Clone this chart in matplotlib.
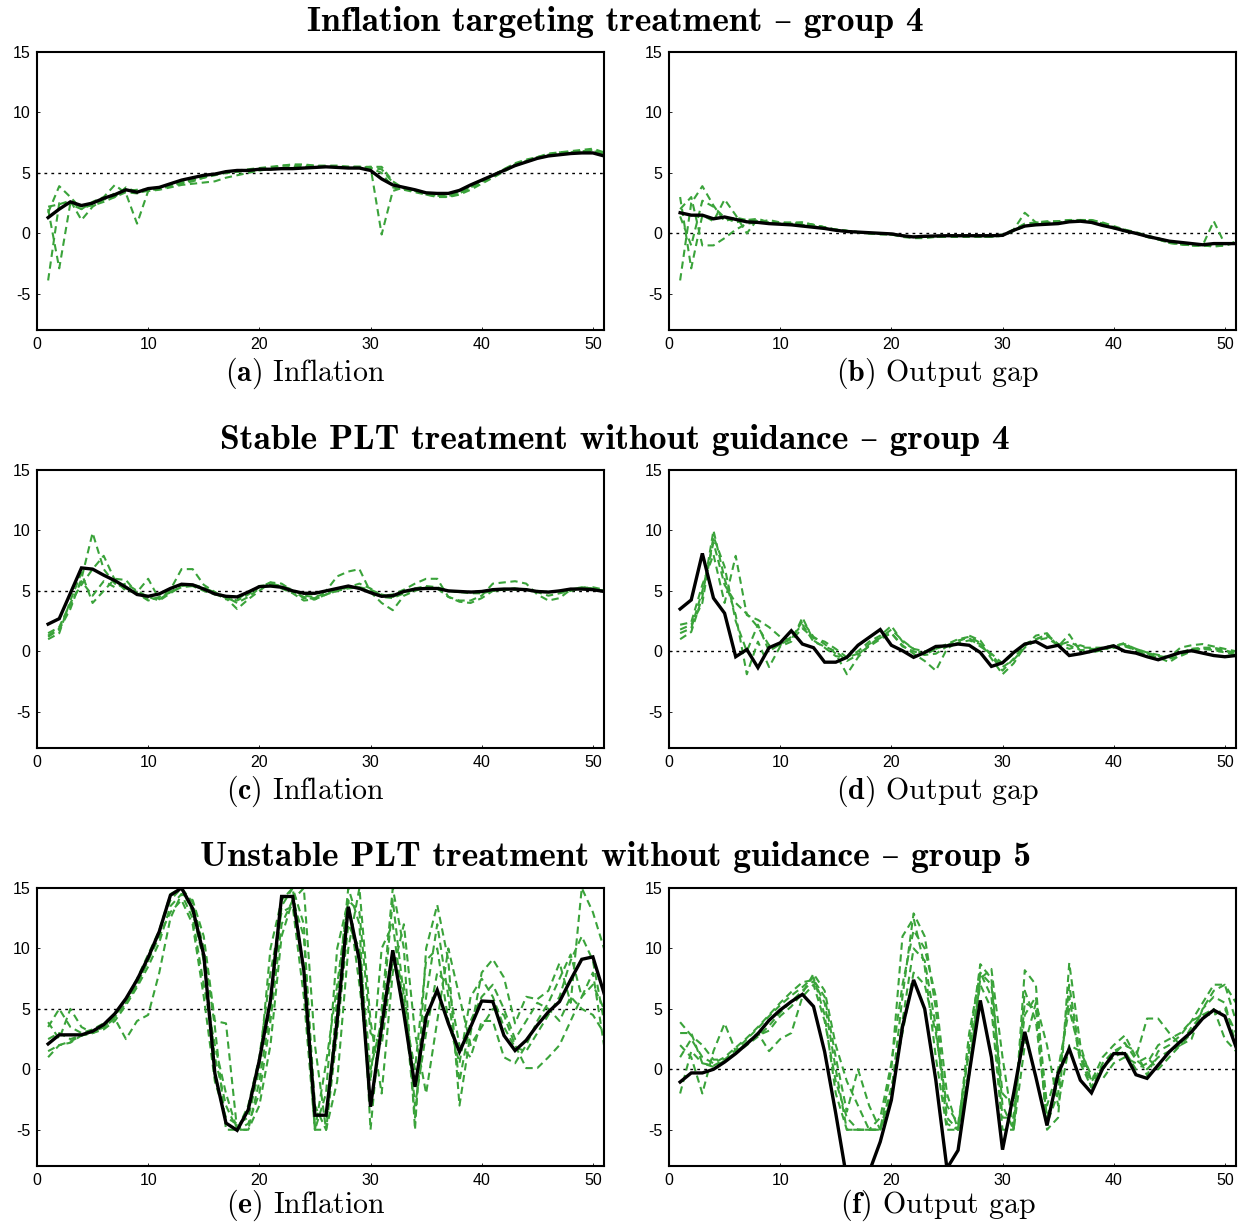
import matplotlib
matplotlib.use('Agg')
import matplotlib.pyplot as plt
import numpy as np

plt.rcParams['mathtext.fontset'] = 'cm'
plt.rcParams['axes.unicode_minus'] = False

periods = np.arange(1, 52)

# ---- Inflation targeting treatment - group 4 ----
it_infl_real = [1.3, 2.0, 2.6, 2.3, 2.5, 2.9, 3.2, 3.6, 3.4, 3.7, 3.8, 4.1, 4.4, 4.6, 4.8, 4.9, 5.1, 5.2, 5.2, 5.3,
                5.3, 5.35, 5.35, 5.4, 5.45, 5.5, 5.45, 5.4, 5.4, 5.2, 4.5, 4.0, 3.8, 3.6, 3.35, 3.3, 3.3, 3.55, 4.0, 4.4,
                4.8, 5.2, 5.6, 5.9, 6.2, 6.4, 6.5, 6.6, 6.65, 6.65, 6.4]
it_infl_fc = [
    [-3.9, 2.5, 2.4, 2.0, 2.4, 2.8, 3.3, 3.5, 3.6, 3.6, 3.8, 4.0, 4.2, 4.4, 4.7, 4.9, 5.1, 5.2, 5.3, 5.4,
     5.5, 5.6, 5.6, 5.6, 5.6, 5.5, 5.5, 5.5, 5.5, 5.4, 5.3, 4.2, 3.7, 3.5, 3.3, 3.1, 3.0, 3.2, 3.6, 4.1,
     4.6, 5.1, 5.6, 5.9, 6.2, 6.4, 6.6, 6.7, 6.8, 6.9, 6.6],
    [2.0, -2.9, 2.5, 2.2, 2.3, 2.6, 3.0, 3.4, 3.3, 3.6, 3.7, 3.9, 4.1, 4.3, 4.6, 4.9, 5.0, 5.1, 5.2, 5.2,
     5.3, 5.4, 5.5, 5.5, 5.5, 5.5, 5.5, 5.5, 5.5, 5.4, 5.0, 3.8, 3.6, 3.4, 3.2, 3.0, 3.0, 3.3, 3.8, 4.2,
     4.7, 5.2, 5.7, 6.0, 6.3, 6.5, 6.6, 6.7, 6.8, 6.8, 6.5],
    [1.7, 3.9, 3.0, 2.0, 2.6, 3.0, 4.0, 3.3, 0.8, 3.5, 3.6, 3.8, 4.0, 4.1, 4.2, 4.3, 4.6, 4.8, 5.0, 5.2,
     5.4, 5.6, 5.7, 5.7, 5.6, 5.6, 5.6, 5.5, 5.5, 5.5, -0.1, 3.5, 3.8, 3.6, 3.3, 3.2, 3.2, 3.4, 3.9, 4.4,
     4.8, 5.3, 5.8, 6.1, 6.3, 6.6, 6.7, 6.8, 6.9, 7.0, 6.7],
    [2.2, 2.4, 2.7, 1.1, 2.2, 2.8, 3.0, 3.8, 3.4, 3.5, 3.7, 3.9, 4.2, 4.4, 4.6, 4.8, 5.0, 5.1, 5.2, 5.3,
     5.3, 5.4, 5.4, 5.5, 5.5, 5.5, 5.5, 5.4, 5.4, 5.5, 5.5, 4.3, 3.7, 3.5, 3.2, 3.1, 3.1, 3.3, 3.8, 4.3,
     4.8, 5.3, 5.7, 6.0, 6.3, 6.5, 6.7, 6.7, 6.8, 6.8, 6.6],
]
it_gap_real = [1.7, 1.5, 1.5, 1.2, 1.35, 1.15, 0.95, 0.9, 0.8, 0.75, 0.7, 0.6, 0.5, 0.4, 0.25, 0.15, 0.1, 0.05, 0.0, -0.05,
               -0.2, -0.3, -0.25, -0.22, -0.2, -0.2, -0.2, -0.2, -0.2, -0.17, 0.25, 0.6, 0.7, 0.75, 0.8, 0.95, 1.0, 0.9, 0.65, 0.45,
               0.2, 0.0, -0.25, -0.45, -0.65, -0.75, -0.85, -0.95, -0.85, -0.85, -0.85]
it_gap_fc = [
    [-3.9, 2.5, 3.9, 2.3, 1.0, 1.3, 1.1, 1.0, 0.9, 0.8, 0.8, 0.7, 0.6, 0.4, 0.3, 0.2, 0.1, 0.0, -0.1, -0.1,
     -0.3, -0.4, -0.4, -0.3, -0.3, -0.3, -0.3, -0.3, -0.3, -0.2, 0.3, 1.7, 0.9, 0.9, 0.9, 1.0, 1.1, 1.1, 0.9, 0.6,
     0.3, 0.1, -0.2, -0.5, -0.8, -0.9, -1.0, -1.0, 1.0, -0.9, -0.8],
    [3.0, -2.9, 1.5, 1.0, 2.8, 1.5, 0.0, 1.2, 0.8, 0.9, 0.9, 0.9, 0.7, 0.5, 0.3, 0.2, 0.1, 0.0, 0.0, -0.1,
     -0.2, -0.3, -0.3, -0.2, -0.2, -0.2, -0.2, -0.2, -0.2, -0.1, 0.3, 0.8, 0.9, 1.0, 1.0, 1.1, 1.1, 1.0, 0.8, 0.5,
     0.2, 0.0, -0.3, -0.5, -0.7, -0.9, -1.0, -1.0, -1.0, -1.0, -0.8],
    [2.0, 3.0, -1.0, -1.0, -0.4, 0.3, 0.8, 0.9, 1.1, 0.9, 0.8, 0.9, 0.7, 0.5, 0.3, 0.2, 0.1, 0.0, 0.0, -0.1,
     -0.2, -0.3, -0.3, -0.3, -0.2, -0.2, -0.2, -0.2, -0.2, -0.2, 0.2, 0.6, 0.8, 0.9, 0.9, 1.0, 1.1, 1.0, 0.8, 0.4,
     0.3, 0.0, -0.2, -0.4, -0.7, -0.9, -1.0, -1.0, -1.1, -1.0, -0.7],
    [1.4, -1.0, 2.7, 2.2, 1.3, 0.9, 1.1, 1.2, 0.9, 0.8, 0.8, 0.8, 0.7, 0.5, 0.3, 0.2, 0.1, 0.0, 0.0, -0.1,
     -0.2, -0.3, -0.3, -0.3, -0.2, -0.2, -0.2, -0.3, -0.3, -0.2, 0.2, 0.6, 0.8, 0.9, 1.0, 1.1, 1.1, 1.1, 0.8, 0.5,
     0.2, 0.0, -0.3, -0.5, -0.8, -0.9, -1.0, -1.0, -1.0, -1.0, -0.7],
]

# ---- Stable PLT treatment without guidance - group 4 ----
splt_infl_real = [2.25, 2.7, 4.8, 6.9, 6.8, 6.3, 5.85, 5.3, 4.7, 4.55, 4.75, 5.2, 5.55, 5.5, 5.15, 4.75, 4.55, 4.5, 4.9, 5.35,
                  5.4, 5.3, 5.0, 4.8, 4.8, 5.0, 5.2, 5.4, 5.2, 4.85, 4.55, 4.6, 4.95, 5.15, 5.2, 5.2, 5.0, 4.95, 4.9, 4.95,
                  5.1, 5.15, 5.15, 5.1, 4.95, 4.9, 5.0, 5.15, 5.15, 5.1, 4.95]
splt_infl_fc = [
    [1.2, 1.8, 3.5, 6.0, 9.8, 6.8, 5.6, 5.2, 4.8, 4.3, 4.4, 4.9, 5.3, 5.4, 5.2, 4.9, 4.5, 4.0, 4.5, 5.2,
     5.6, 5.4, 5.1, 4.6, 4.5, 4.8, 5.1, 5.3, 5.3, 4.9, 4.5, 4.4, 4.8, 5.1, 5.2, 5.2, 5.0, 4.9, 4.9, 4.9,
     5.0, 5.1, 5.1, 5.1, 5.0, 4.9, 4.9, 5.1, 5.2, 5.2, 5.0],
    [1.0, 1.5, 4.2, 6.5, 4.0, 5.0, 6.0, 5.9, 4.8, 4.2, 4.5, 5.1, 6.8, 6.8, 5.5, 4.9, 4.4, 3.5, 4.3, 5.0,
     5.7, 5.6, 5.0, 4.4, 4.4, 5.0, 6.2, 6.6, 6.8, 4.9, 4.0, 3.4, 4.6, 5.0, 5.3, 5.2, 4.5, 4.2, 4.2, 4.6,
     5.6, 5.7, 5.8, 5.6, 4.7, 4.2, 4.4, 5.1, 5.3, 5.2, 5.0],
    [1.5, 2.0, 4.0, 5.5, 6.8, 7.9, 5.9, 5.0, 4.9, 6.0, 4.3, 4.9, 5.5, 5.4, 5.0, 4.7, 4.5, 4.2, 4.7, 5.3,
     5.7, 5.3, 4.9, 4.5, 4.3, 4.7, 5.0, 5.3, 5.6, 5.2, 4.6, 4.7, 5.1, 5.6, 6.0, 6.0, 4.5, 4.1, 4.0, 4.4,
     5.0, 5.1, 5.2, 5.1, 4.9, 4.6, 4.8, 5.0, 5.2, 5.3, 5.1],
    [1.3, 1.9, 3.8, 5.8, 4.6, 5.8, 5.3, 5.6, 5.0, 4.5, 4.2, 4.8, 5.4, 5.5, 5.3, 4.8, 4.3, 4.3, 4.9, 5.4,
     5.5, 5.2, 4.8, 4.2, 4.3, 4.7, 5.0, 5.2, 5.3, 5.1, 4.7, 4.5, 4.9, 5.2, 5.4, 5.3, 5.0, 4.9, 4.8, 4.8,
     5.0, 5.1, 5.2, 5.1, 4.9, 4.9, 5.0, 5.1, 5.3, 5.2, 5.0],
]
splt_gap_real = [3.5, 4.25, 8.1, 4.4, 3.15, -0.45, 0.15, -1.35, 0.3, 0.7, 1.7, 0.6, 0.3, -0.9, -0.9, -0.5, 0.5, 1.15, 1.8, 0.5,
                 0.05, -0.5, -0.1, 0.4, 0.45, 0.6, 0.5, -0.1, -1.25, -0.95, -0.1, 0.6, 0.8, 0.3, 0.5, -0.35, -0.2, 0.0, 0.25, 0.45,
                 0.0, -0.15, -0.45, -0.7, -0.4, -0.1, 0.05, -0.15, -0.35, -0.45, -0.35]
splt_gap_fc = [
    [1.0, 1.6, 4.5, 10.0, 6.0, 3.0, -1.9, 0.8, -1.3, 0.4, 0.8, 2.8, 0.9, 0.3, -0.4, -0.5, 0.0, 0.8, 1.3, 2.1,
     0.8, 0.2, -0.3, 0.2, 0.6, 1.0, 1.2, 0.7, -0.6, -1.9, -1.0, 0.4, 1.3, 1.5, 0.4, 1.4, 0.0, -0.1, 0.1, 0.4,
     0.7, 0.0, -0.3, -0.5, -0.9, -0.3, 0.2, 0.3, 0.3, 0.1, -0.2],
    [1.8, 2.2, 4.0, 9.5, 7.0, 2.5, 0.0, 2.2, 0.0, 0.6, 1.0, 2.5, 1.2, 0.6, -0.2, -1.9, -0.5, 0.5, 1.2, 1.5,
     0.5, -0.2, -0.8, -1.6, 0.2, 0.8, 1.3, 0.9, -0.4, -1.6, -0.6, 0.5, 1.0, 1.3, 0.6, 0.2, 0.5, 0.2, 0.2, 0.3,
     0.5, 0.2, -0.1, -0.4, -0.6, -0.4, 0.0, 0.2, 0.2, 0.0, -0.1],
    [2.2, 2.4, 5.5, 8.0, 4.0, 7.9, 3.0, 2.6, 2.0, 1.2, 0.9, 1.9, 1.1, 0.8, 0.2, -0.5, -0.2, 0.4, 1.0, 1.5,
     0.4, 0.0, -0.3, -0.2, 0.4, 0.7, 0.9, 0.6, -0.3, -1.3, -0.7, 0.3, 0.9, 1.1, 0.5, 0.8, 0.3, 0.3, 0.3, 0.5,
     0.6, 0.2, -0.1, -0.3, -0.5, 0.3, 0.5, 0.6, 0.4, 0.2, 0.0],
    [1.5, 1.9, 5.0, 9.0, 5.5, 4.0, 3.1, 2.0, 0.5, 0.5, 1.2, 2.2, 0.8, 0.4, 0.0, -0.8, -0.3, 0.6, 1.1, 1.8,
     0.9, 0.2, 0.0, 0.2, 0.5, 0.9, 1.1, 0.4, -0.2, -1.0, -0.2, 0.6, 1.0, 1.4, 0.6, 0.5, 0.1, 0.1, 0.2, 0.3,
     0.4, 0.1, -0.2, -0.4, -0.5, -0.1, 0.2, 0.2, 0.1, -0.1, -0.3],
]

# ---- Unstable PLT treatment without guidance - group 5 ----
uplt_infl_real = [2.1, 2.85, 2.85, 2.85, 3.15, 3.7, 4.6, 5.85, 7.4, 9.25, 11.4, 14.4, 15.0, 13.3, 9.45, -0.35, -4.45, -5.05, -3.35, 0.75,
                  5.7, 14.3, 14.3, 8.2, -3.8, -3.8, 4.05, 13.45, 9.0, -3.1, 3.5, 9.85, 4.6, -1.45, 4.35, 6.55, 3.8, 1.45, 3.5, 5.65,
                  5.6, 2.8, 1.55, 2.4, 3.65, 4.75, 5.6, 7.4, 9.1, 9.3, 6.3]
uplt_infl_fc = [
    [3.9, 2.5, 5.0, 3.5, 3.0, 3.5, 4.5, 5.5, 7.0, 9.0, 11.5, 14.0, 15.0, 13.8, 10.0, 3.5, -5.0, -5.0, -5.0, -1.0,
     5.0, 13.5, 15.0, 12.0, -5.0, -5.0, 6.0, 15.0, 12.0, -5.0, 5.0, 15.0, 10.0, -5.0, 10.0, 13.6, 9.0, -3.0, 3.0, 8.0,
     9.1, 7.6, 3.8, 6.0, 5.8, 6.5, 8.8, 5.5, 15.0, 13.0, 10.0],
    [1.0, 2.0, 2.2, 2.8, 3.1, 3.5, 4.2, 2.5, 4.0, 4.5, 8.0, 12.5, 14.5, 14.0, 11.0, 4.0, 3.8, -5.0, -5.0, -3.0,
     2.0, 11.0, 14.0, 15.0, 2.0, -5.0, -1.0, 10.0, 15.0, 4.0, -2.0, 8.0, 12.0, 3.0, -2.0, 4.0, 10.0, 6.0, 2.0, 3.5,
     5.0, 4.5, 2.0, 0.1, 0.1, 1.0, 2.0, 4.0, 6.0, 7.0, 5.0],
    [2.5, 3.0, 2.5, 2.8, 3.0, 3.3, 4.0, 5.3, 6.8, 8.5, 10.5, 13.5, 14.5, 12.5, 7.0, 2.0, -2.0, -5.0, -3.0, 1.0,
     8.0, 13.0, 13.5, 6.0, -5.0, -2.0, 10.0, 14.0, 7.0, -1.0, 10.0, 12.0, 5.0, 0.0, 9.0, 10.0, 4.0, 0.5, 6.0, 7.5,
     6.0, 3.5, 1.8, 1.5, 3.0, 4.5, 6.0, 9.0, 11.0, 9.0, 4.0],
    [1.5, 2.0, 2.3, 2.8, 3.0, 3.5, 4.3, 5.5, 7.0, 9.0, 11.0, 13.0, 14.0, 12.0, 6.0, -1.0, -4.0, -4.5, -4.0, 0.0,
     10.0, 14.0, 15.0, 8.0, -5.0, 0.5, 7.0, 14.0, 13.0, 3.0, 2.0, 9.0, 7.0, -3.0, 3.0, 8.0, 7.0, 2.0, 1.0, 4.0,
     4.0, 1.0, 0.5, 2.0, 4.0, 5.5, 7.5, 9.5, 6.0, 8.0, 2.0],
    [3.5, 5.0, 3.5, 3.0, 3.3, 3.8, 4.5, 5.8, 7.5, 9.5, 11.5, 14.5, 15.0, 13.0, 9.0, 1.0, -3.0, -5.0, -4.5, -2.0,
     4.0, 12.0, 14.0, 11.0, -3.0, -5.0, 3.0, 12.0, 10.0, 0.0, 4.0, 14.0, 6.0, -4.0, 6.0, 12.0, 6.0, -1.0, 4.0, 6.0,
     7.0, 5.0, 2.5, 4.0, 5.5, 5.0, 4.0, 6.0, 5.0, 4.5, 3.0],
]
uplt_gap_real = [-1.05, -0.3, -0.3, 0.0, 0.6, 1.3, 2.1, 2.95, 4.05, 4.9, 5.6, 6.2, 5.2, 1.45, -3.65, -9.1, -10.0, -8.5, -6.0, -2.55,
                 3.5, 7.4, 5.0, -0.9, -8.2, -6.7, -0.35, 5.7, 1.0, -6.65, -2.0, 3.1, -0.65, -4.65, -0.35, 1.7, -0.9, -1.95, 0.05, 1.3,
                 1.3, -0.45, -0.75, 0.35, 1.45, 2.3, 3.1, 4.2, 4.9, 4.4, 1.85]
uplt_gap_fc = [
    [3.9, 2.8, 2.0, 0.8, 0.8, 1.3, 2.0, 2.7, 3.6, 4.7, 5.6, 6.5, 7.3, 5.5, 0.0, -5.0, -5.0, -5.0, -5.0, -2.0,
     6.0, 12.9, 11.0, 5.0, -4.0, -5.0, 2.0, 8.7, 7.5, -3.0, -5.0, 8.2, 7.0, -5.0, -4.0, 8.8, 2.0, -1.0, 1.0, 2.0,
     2.8, 1.0, 4.2, 4.2, 3.0, 2.0, 2.5, 5.0, 6.5, 7.0, 5.5],
    [2.0, 1.0, -2.0, 1.5, 3.8, 1.5, 2.2, 2.8, 3.2, 4.4, 5.2, 6.3, 7.9, 6.5, 2.0, -1.0, -3.0, -5.0, -5.0, 0.0,
     11.0, 12.5, 8.5, 1.0, -5.0, -5.0, 0.0, 7.5, 8.3, 1.0, -5.0, 2.0, 5.5, 2.0, -3.0, 2.0, 1.5, -0.5, -0.8, 0.5,
     1.0, 0.5, 1.0, 0.0, 1.0, 2.0, 3.5, 4.5, 4.5, 5.0, 3.0],
    [3.0, 3.0, 0.5, 0.2, 0.7, 1.4, 2.2, 3.0, 1.5, 2.5, 3.0, 6.0, 7.0, 4.0, -1.0, -4.0, -5.0, -5.0, -5.0, -1.5,
     3.0, 8.0, 7.0, 3.0, -3.0, -4.5, 1.5, 7.0, 5.0, -5.0, -5.0, 6.5, 4.0, -4.0, -1.0, 6.0, 0.5, -1.5, 0.5, 1.5,
     2.0, 1.5, -0.5, 1.5, 2.0, 2.8, 4.0, 5.5, 7.0, 7.0, 4.0],
    [-2.0, 1.5, 0.5, 0.3, 0.8, 1.6, 2.5, 3.4, 4.4, 5.3, 6.1, 6.8, 7.6, 4.5, -2.0, -5.0, -5.0, -5.0, -4.0, 0.5,
     7.0, 11.5, 10.0, 6.0, -2.0, -5.0, 3.0, 8.0, 7.0, -2.0, -3.0, 4.5, 6.0, -3.0, 0.0, 5.0, 1.2, -1.0, 0.2, 1.0,
     1.5, 0.0, 0.5, 2.0, 2.5, 3.0, 4.0, 4.5, 5.0, 2.5, 1.5],
    [1.0, 2.5, 1.0, 0.5, 1.0, 1.8, 2.6, 3.5, 4.5, 5.5, 6.4, 7.2, 7.4, 6.0, 1.0, -3.5, 0.0, -3.0, -5.0, -2.5,
     4.0, 10.0, 9.0, 3.5, -4.5, -5.0, -0.5, 8.0, 6.0, -4.0, -4.0, 5.5, 5.0, -4.5, -2.0, 7.0, 1.0, -1.5, 0.0, 1.2,
     2.2, 0.8, 0.0, 1.0, 1.5, 2.0, 3.0, 5.0, 6.0, 5.5, 2.0],
]

row_titles = ['Inflation targeting treatment – group 4',
              'Stable PLT treatment without guidance – group 4',
              'Unstable PLT treatment without guidance – group 5']
captions = ['(a)', '(b)', '(c)', '(d)', '(e)', '(f)']
panel_names = ['Inflation', 'Output gap']
targets = [5, 0]

panels = [
    (it_infl_real, it_infl_fc), (it_gap_real, it_gap_fc),
    (splt_infl_real, splt_infl_fc), (splt_gap_real, splt_gap_fc),
    (uplt_infl_real, uplt_infl_fc), (uplt_gap_real, uplt_gap_fc),
]

W, H = 1245, 1224
fig = plt.figure(figsize=(W / 100, H / 100), dpi=100)

ax_left = [37, 669]
ax_w = 567
ax_h = 278
ax_top = [52, 470, 888]
title_y = [22, 440, 857]
cap_y = [373, 791, 1205]

for i, (real, fcs) in enumerate(panels):
    row, col = divmod(i, 2)
    x0 = ax_left[col]
    y0 = ax_top[row]
    ax = fig.add_axes([x0 / W, 1 - (y0 + ax_h) / H, ax_w / W, ax_h / H])
    for fc in fcs:
        ax.plot(periods, fc, color='#3aa33a', lw=1.5, ls=(0, (3.5, 2.2)), zorder=2)
    ax.plot(periods, real, color='black', lw=2.4, zorder=3, solid_joinstyle='miter')
    ax.axhline(targets[col], color='black', lw=1.0, ls=(0, (2, 3)), zorder=1)
    ax.set_xlim(0, 51)
    ax.set_ylim(-8, 15)
    ax.set_xticks([0, 10, 20, 30, 40, 50])
    ax.set_yticks([-5, 0, 5, 10, 15])
    ax.tick_params(direction='in', length=2, width=0.6, labelsize=11.5, pad=5)
    for lab in ax.get_xticklabels() + ax.get_yticklabels():
        lab.set_fontfamily(['Liberation Sans', 'DejaVu Sans'])
    for sp in ax.spines.values():
        sp.set_linewidth(1.5)
    fig.text((x0 + ax_w / 2 - 15) / W, 1 - cap_y[row] / H,
             r'$\mathbf{' + captions[i] + '}$ ' + panel_names[col],
             ha='center', va='center', fontsize=21.5, family=['cmr10', 'DejaVu Serif'])

for r in range(3):
    fig.text(615 / W, 1 - title_y[r] / H, row_titles[r], ha='center', va='center',
             fontsize=25.6, family=['cmb10', 'DejaVu Serif'])

fig.savefig('out.png', dpi=100)
